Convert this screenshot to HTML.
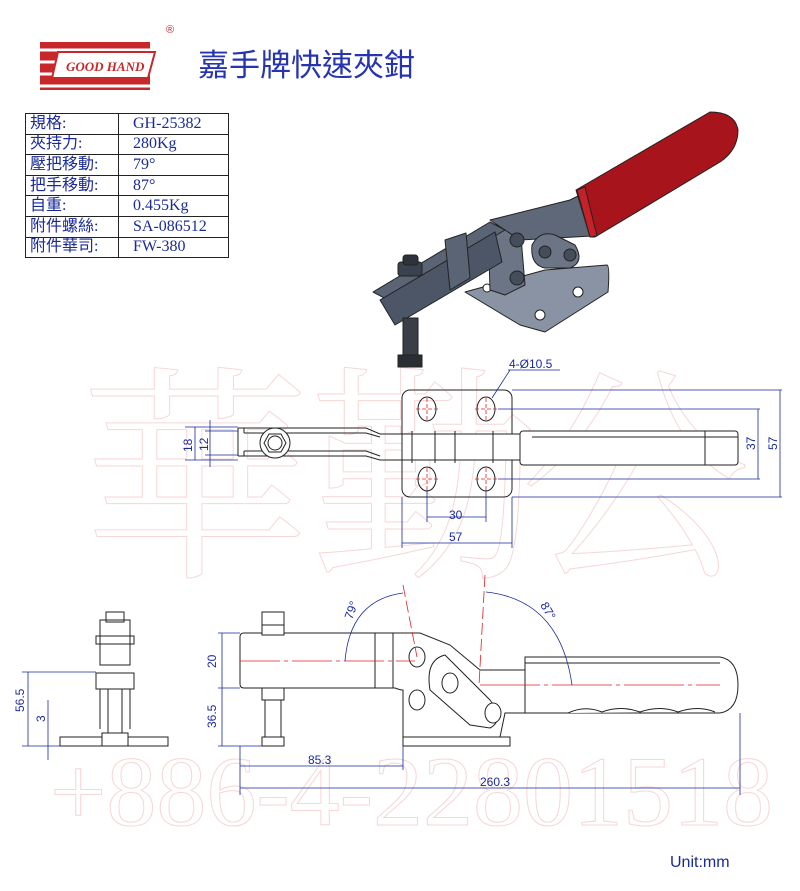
<!DOCTYPE html>
<html><head><meta charset="utf-8"><style>
body{margin:0;background:#fff;width:800px;height:891px;overflow:hidden;position:relative;font-family:"Liberation Serif","Noto Serif CJK SC",serif}
table{position:absolute;left:25px;top:113px;border-collapse:collapse;font-size:16px;color:#1a2a9a}
td{border:1px solid #222;height:19.6px;padding:0 0 0 4px;line-height:18px}
td.a{width:88px;font-family:"Liberation Serif","Noto Sans CJK TC",serif}
td.b{width:95px;padding-left:14px}
</style></head><body>
<svg width="800" height="891" style="position:absolute;left:0;top:0" font-family="Liberation Sans, DejaVu Sans, sans-serif">
<g fill="none" stroke="#f6d6d6" stroke-width="1">
<text x="50" y="825" font-size="100" font-family="Liberation Serif, serif">+886-4-22801518</text>
<text x="80" y="560" font-size="230" font-family="Noto Serif CJK SC, serif">華勤</text>
<text x="520" y="560" font-size="230" font-family="Noto Serif CJK SC, serif">公</text>
</g>
<g>
<path d="M40 42 H150 V90 H40 Z" fill="#c8282a"/>
<path d="M30 50 H150 M30 62 H150 M30 74 H150 M30 86 H150" stroke="#fff" stroke-width="3"/>
<path d="M58 52 H155 L148 78 H52 Z" fill="#fff" stroke="#c8282a" stroke-width="2"/>
<text x="66" y="71" font-size="13" font-style="italic" font-weight="bold" fill="#c8282a" font-family="Liberation Serif, serif">GOOD HAND</text>
<text x="166" y="33" font-size="11" fill="#c8282a">®</text>
</g>
<text x="198" y="76" font-size="31" fill="#2634b0" font-family="Noto Sans CJK TC, sans-serif">嘉手牌快速夾鉗</text>
<g stroke="#222" stroke-width="1" stroke-linejoin="round">
<path d="M465 292 L545 270 L607 265 Q610 266 608 292 L545 332 L520 325 Z" fill="#8a93a3"/>
<circle cx="578" cy="292" r="5" fill="#fff"/><circle cx="540" cy="315" r="5" fill="#fff"/><circle cx="487" cy="288" r="4" fill="#fff"/>
<path d="M488 225 L520 225 L525 285 L505 295 L490 290 Z" fill="#6c7585"/>
<path d="M490 220 L570 200 L580 195 L590 198 L592 236 L520 240 Z" fill="#5e6878"/>
<path d="M576 190 L710 112 Q735 112 738 130 Q738 150 720 162 L595 237 L590 237 Z" fill="#a8141c"/>
<path d="M577 190 L590 237 L597 236 L585 187 Z" fill="#c82028"/>
<path d="M373 292 L490 222 L505 230 L388 300 Z" fill="#5a6474"/>
<path d="M380 300 L495 232 L502 262 L395 325 Z" fill="#4c5666"/>
<path d="M445 240 L450 290 L470 278 L466 233 Z" fill="#5a6474"/>
<circle cx="517" cy="240" r="7" fill="#454d5a"/><circle cx="517" cy="278" r="7" fill="#454d5a"/>
<path d="M532 245 Q540 230 555 235 L575 245 Q585 262 570 268 L545 268 Q530 265 532 245 Z" fill="#6c7585"/>
<circle cx="545" cy="252" r="6" fill="#454d5a"/><circle cx="570" cy="255" r="6" fill="#454d5a"/>
<rect x="398" y="262" width="24" height="14" rx="3" fill="#3a4250"/>
<rect x="403" y="255" width="15" height="10" rx="3" fill="#2e333b"/>
<rect x="403" y="318" width="15" height="39" fill="#3a3e46"/>
<path d="M398 355 h24 v12 h-24z" fill="#2a2d33"/>
</g>
<g stroke="#222" stroke-width="1" fill="none">
<rect x="402" y="390" width="110" height="107" rx="8"/>
<ellipse cx="427" cy="409" rx="9" ry="12"/><ellipse cx="486" cy="409" rx="9" ry="12"/>
<ellipse cx="427" cy="479" rx="9" ry="12"/><ellipse cx="486" cy="479" rx="9" ry="12"/>
<path d="M238 428 H366 L380 434 H520 M238 456 H366 L380 460 H520 M238 428 v28 M244 433 H366 L380 437 M244 451 H366 L380 456 M244 428 v5 M244 451 v5"/>
<rect x="402" y="434" width="118" height="26" fill="#fff"/>
<rect x="520" y="431" width="218" height="34" rx="3" fill="#fff"/>
<line x1="532" y1="437" x2="738" y2="437"/><line x1="705" y1="431" x2="705" y2="465"/>
<circle cx="275" cy="443" r="15" fill="#fff"/><path d="M264 443 l5 -9 h12 l5 9 l-5 9 h-12z"/><circle cx="275" cy="443" r="7"/>
<path d="M412 431 v32 M435 431 v32 M455 431 v32 M493 431 v32"/>
</g>
<g stroke="#e02020" stroke-width="0.8" stroke-dasharray="4,2">
<path d="M416 409 h22 M427 398 v22 M475 409 h22 M486 398 v22 M416 479 h22 M427 468 v22 M475 479 h22 M486 468 v22"/>
</g>
<g stroke="#1a2aa0" stroke-width="0.8" fill="none">
<path d="M498 409 H760 M498 479 H760 M512 390 H782 M512 497 H782 M758 409 V479 M780 390 V497"/>
<path d="M402 497 V548 M512 497 V548 M427 490 V522 M486 490 V522 M427 517 H486 M402 543 H512"/>
<path d="M185 427 H238 M185 460 H238 M205 431 H238 M205 455 H238 M195 427 V460 M210 420 V467"/>
<path d="M510 370 L492 398 M508 370 H560"/>
</g>
<g fill="#1a2aa0" font-size="12">
<text x="509" y="368">4-Ø10.5</text>
<text x="449" y="519">30</text><text x="449" y="541">57</text>
<text transform="translate(755 450) rotate(-90)">37</text>
<text transform="translate(777 450) rotate(-90)">57</text>
<text transform="translate(192 452) rotate(-90)">18</text>
<text transform="translate(208 451) rotate(-90)">12</text>
</g>
<g stroke="#222" stroke-width="1" fill="none">
<rect x="60" y="737" width="108" height="9"/>
<rect x="100" y="620" width="30" height="45" fill="#fff"/>
<rect x="96" y="673" width="38" height="16"/><rect x="96" y="636" width="38" height="8"/>
<path d="M100 689 v40 M130 689 v40 M108 689 v50 M122 689 v50"/>
<rect x="102" y="733" width="26" height="13" fill="#fff"/>
<rect x="106" y="612" width="18" height="10"/>
</g>
<g stroke="#1a2aa0" stroke-width="0.8" fill="none"><path d="M22 672 H96 M22 746 H60 M28 672 V746 M48 700 V760"/></g>
<g fill="#1a2aa0" font-size="12"><text transform="translate(24 712) rotate(-90)">56.5</text><text transform="translate(45 722) rotate(-90)">3</text></g>
<g stroke="#222" stroke-width="1" fill="#fff">
<path d="M403 746 V690 Q400 690 395 688 H244 Q240 688 240 684 V637 Q240 633 244 633 H420 L450 645 L480 670 H525 V713 H505 L500 737 H510 V746 Z"/>
<line x1="403" y1="737" x2="510" y2="737"/>
<path d="M375 633 V688 M393 633 V688"/>
<ellipse cx="417" cy="657" rx="8" ry="10"/><ellipse cx="417" cy="700" rx="8" ry="10"/>
<path d="M445 655 L490 700 Q505 720 490 728 L470 725 L430 690 Q425 660 445 655 Z"/>
<ellipse cx="450" cy="683" rx="8" ry="10"/><ellipse cx="493" cy="713" rx="8" ry="10"/>
<path d="M525 657 H720 Q738 660 738 685 Q738 710 720 713 H525 Z"/>
<line x1="525" y1="663" x2="720" y2="663"/>
<path d="M568 713 Q585 705 602 712 Q620 705 640 712 Q660 705 678 712 Q698 705 715 712"/>
<rect x="262" y="625" width="22" height="10"/><rect x="262" y="612" width="22" height="13"/>
<rect x="262" y="688" width="22" height="12"/><rect x="265" y="700" width="16" height="37"/><rect x="262" y="737" width="22" height="9"/>
</g>
<g stroke="#e02020" stroke-width="0.8" fill="none">
<path d="M240 661 H415" stroke-dasharray="40,4,4,4"/>
<path d="M480 685 H720" stroke-dasharray="60,4,4,4"/>
<path d="M403 585 L417 657" stroke-dasharray="12,4"/>
<path d="M485 575 L479 685" stroke-dasharray="12,4"/>
</g>
<g stroke="#1a2aa0" stroke-width="0.8" fill="none">
<path d="M345 661 Q350 600 403 593"/>
<path d="M486 592 Q560 600 572 685"/>
<path d="M218 633 H240 M218 688 H240 M218 746 H262 M222 633 V746"/>
<path d="M240 746 V795 M403 746 V770 M740 713 V795 M240 766 H403 M240 788 H740"/>
</g>
<g fill="#1a2aa0" font-size="12">
<text transform="translate(216 668) rotate(-90)">20</text>
<text transform="translate(216 728) rotate(-90)">36.5</text>
<text x="308" y="764">85.3</text><text x="480" y="786">260.3</text>
<text transform="translate(352 620) rotate(-70)">79°</text>
<text transform="translate(540 605) rotate(60)">87°</text>
</g>
<text x="670" y="867" font-size="16" fill="#1a2a9a">Unit:mm</text>
</svg>
<table>
<tr><td class="a">規格:</td><td class="b">GH-25382</td></tr>
<tr><td class="a">夾持力:</td><td class="b">280Kg</td></tr>
<tr><td class="a">壓把移動:</td><td class="b">79°</td></tr>
<tr><td class="a">把手移動:</td><td class="b">87°</td></tr>
<tr><td class="a">自重:</td><td class="b">0.455Kg</td></tr>
<tr><td class="a">附件螺絲:</td><td class="b">SA-086512</td></tr>
<tr><td class="a">附件華司:</td><td class="b">FW-380</td></tr>
</table>
</body></html>
